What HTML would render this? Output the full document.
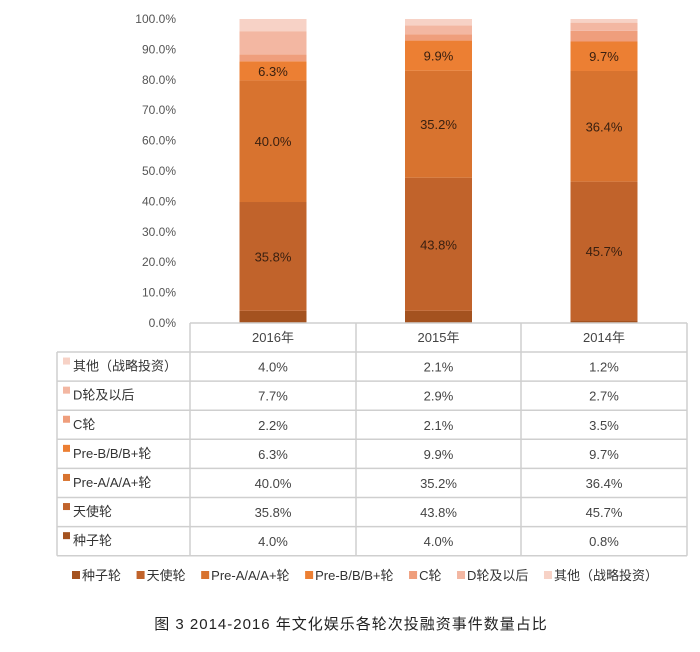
<!DOCTYPE html>
<html><head><meta charset="utf-8"><style>
body{margin:0;background:#fff;width:700px;height:647px;overflow:hidden;font-family:"Liberation Sans","Noto Sans CJK SC",sans-serif}
svg text{font-family:"Liberation Sans","Noto Sans CJK SC",sans-serif}
</style></head><body>
<svg id="c" width="700" height="647"></svg>
<script>
const years=["2016年","2015年","2014年"];
const seriesNames=["种子轮","天使轮","Pre-A/A/A+轮","Pre-B/B/B+轮","C轮","D轮及以后","其他（战略投资）"];
const seed=[4.0,4.0,0.8];
const angel=[35.8,43.8,45.7];
const preA=[40.0,35.2,36.4];
const preB=[6.3,9.9,9.7];
const roundC=[2.2,2.1,3.5];
const roundD=[7.7,2.9,2.7];
const other=[4.0,2.1,1.2];
const yTicks=[0,10,20,30,40,50,60,70,80,90,100];
const series=[seed,angel,preA,preB,roundC,roundD,other];
const colors=["#a4521f","#c1632b","#d8732f","#ec7f33","#ef9e7c","#f3b7a2","#f7d2c6"];
const NS="http://www.w3.org/2000/svg";
const svg=document.getElementById('c');
function mk(t,a,txt){const e=document.createElementNS(NS,t);for(const k in a)e.setAttribute(k,a[k]);if(txt!==undefined)e.textContent=txt;svg.appendChild(e);return e;}
const y0=323,y1=19;
const yS=v=>y0-(v/100)*(y0-y1);
const colX=[190,356,521,687];
const barW=67;
const xC=i=>(colX[i]+colX[i+1])/2;
yTicks.forEach(t=>{const e=mk('text',{x:176,y:yS(t)+4,'text-anchor':'end','font-size':12,fill:'#555'},t.toFixed(1)+'%');

});
years.forEach((yr,i)=>{let acc=0;series.forEach((s,k)=>{const v=s[i];
const r=mk('rect',{x:xC(i)-barW/2,y:yS(acc+v),width:barW,height:yS(acc)-yS(acc+v),fill:colors[k]});


if(k>=1&&k<=3){const t=mk('text',{x:xC(i),y:(yS(acc)+yS(acc+v))/2+5,'text-anchor':'middle','font-size':13,fill:'#3a2010'},v.toFixed(1)+'%');

}
acc+=v;});});
const rowTop=352,rowH=29.1;
const gs='#cfcfcf';
mk('line',{x1:190,y1:323,x2:687,y2:323,stroke:gs,'stroke-width':1.5});
colX.forEach(x=>mk('line',{x1:x,y1:323,x2:x,y2:rowTop+7*rowH,stroke:gs,'stroke-width':1.5}));
mk('line',{x1:57,y1:rowTop,x2:57,y2:rowTop+7*rowH,stroke:gs,'stroke-width':1.5});
for(let r=0;r<=7;r++)mk('line',{x1:57,y1:rowTop+r*rowH,x2:687,y2:rowTop+r*rowH,stroke:gs,'stroke-width':1.5});
years.forEach((yr,i)=>{const t=mk('text',{x:xC(i),y:342,'text-anchor':'middle','font-size':13,fill:'#444'},yr);

});
for(let r=0;r<7;r++){const k=6-r;const cy=rowTop+r*rowH+rowH/2;
mk('rect',{x:63,y:cy-9,width:7,height:7,fill:colors[k]});
const t=mk('text',{x:73,y:cy+4,'font-size':13,fill:'#333'},seriesNames[k]);


years.forEach((yr,i)=>{const c=mk('text',{x:xC(i),y:cy+5,'text-anchor':'middle','font-size':13,fill:'#444'},series[k][i].toFixed(1)+'%');

});}
const legTexts=[];let tw=0;
seriesNames.forEach((n,k)=>{const t=mk('text',{x:0,y:580,'font-size':13,fill:'#333'},n);


legTexts.push(t);tw+=t.getComputedTextLength()+10;});
const gap=(658-72-tw)/6;
let lx=72;
legTexts.forEach((t,k)=>{const sw=mk('rect',{x:lx,y:571,width:8,height:8,fill:colors[k]});


t.setAttribute('x',lx+10);lx+=10+t.getComputedTextLength()+gap;});
const cap=mk('text',{x:351,y:629,'text-anchor':'middle','font-size':15,'letter-spacing':'1',fill:'#222'},'图 3    2014-2016 年文化娱乐各轮次投融资事件数量占比');


cap.setAttribute('xml:space','preserve');
</script>
</body></html>
